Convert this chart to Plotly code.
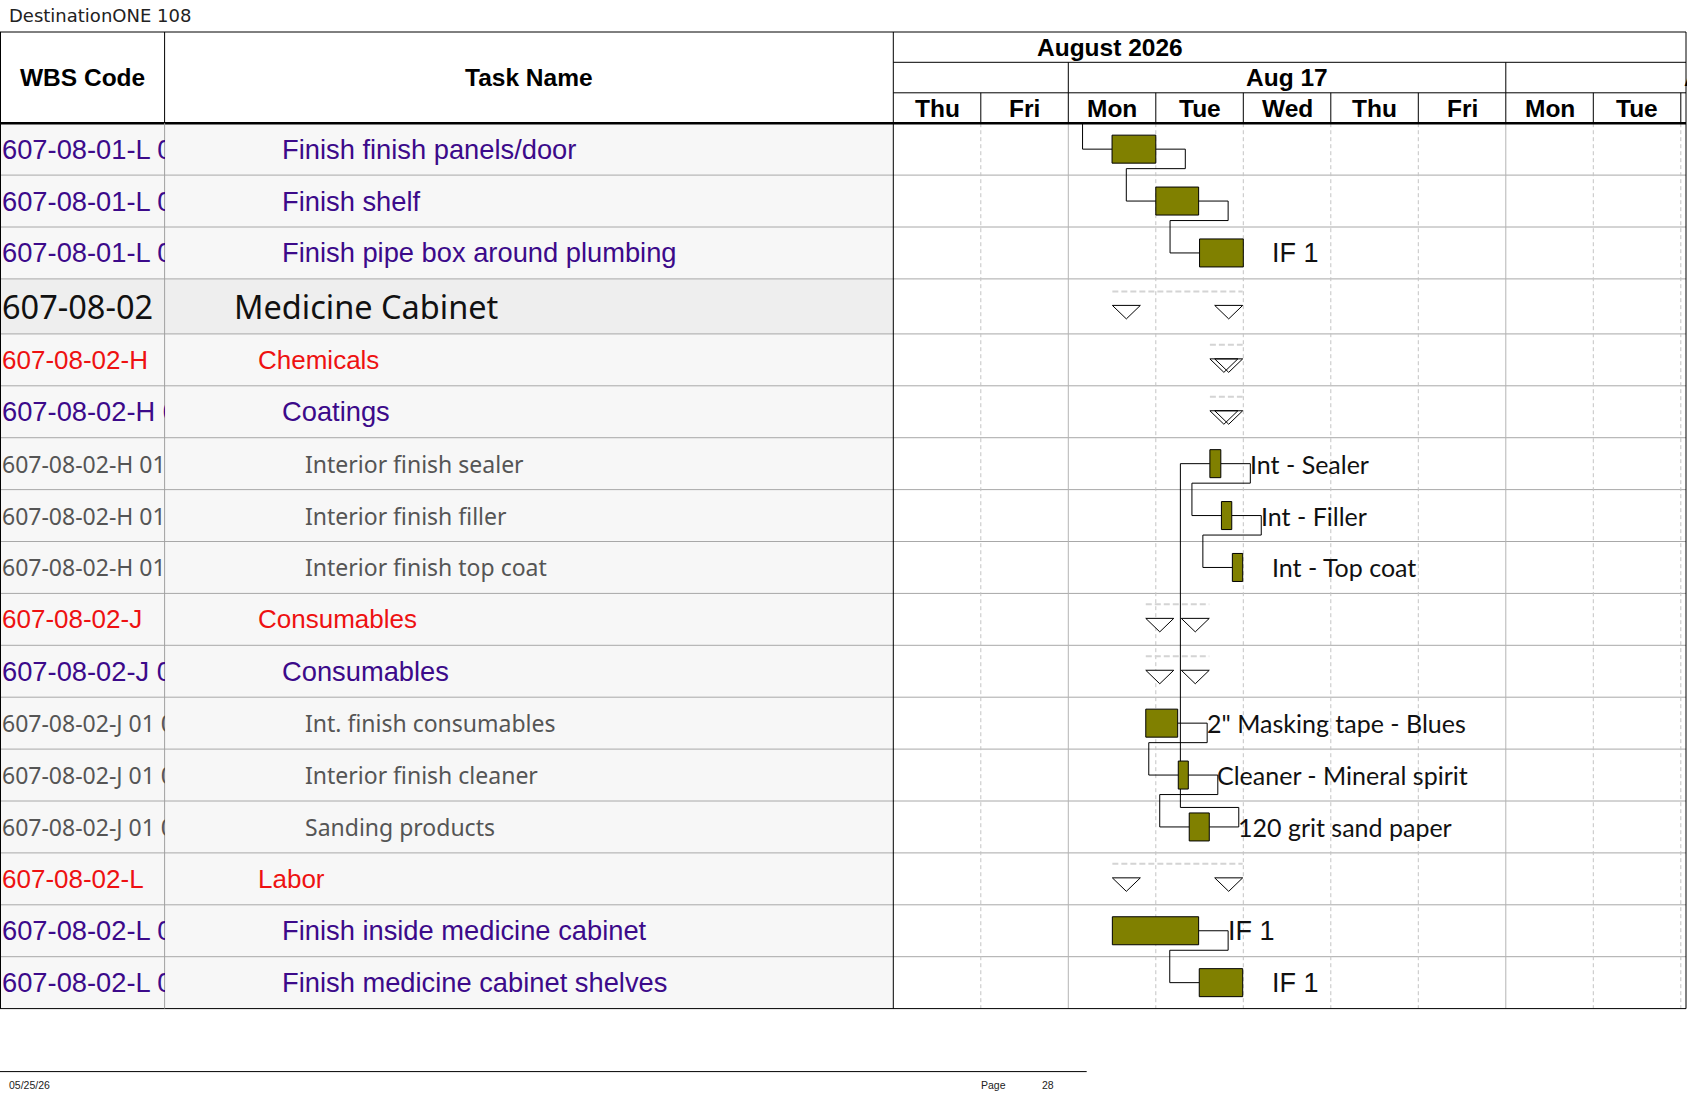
import numpy as np
import plotly.graph_objects as go

W, H = 1687, 1097

# ---- task table (one entry per row, top to bottom)
wbs_codes = ["607-08-01-L 01", "607-08-01-L 02", "607-08-01-L 03", "607-08-02",
             "607-08-02-H", "607-08-02-H 01", "607-08-02-H 01 01", "607-08-02-H 01 02",
             "607-08-02-H 01 03", "607-08-02-J", "607-08-02-J 01", "607-08-02-J 01 01",
             "607-08-02-J 01 02", "607-08-02-J 01 03", "607-08-02-L", "607-08-02-L 01",
             "607-08-02-L 02"]
task_names = ["Finish finish panels/door", "Finish shelf", "Finish pipe box around plumbing",
              "Medicine Cabinet", "Chemicals", "Coatings", "Interior finish sealer",
              "Interior finish filler", "Interior finish top coat", "Consumables", "Consumables",
              "Int. finish consumables", "Interior finish cleaner", "Sanding products", "Labor",
              "Finish inside medicine cabinet", "Finish medicine cabinet shelves"]
outline_level = [3, 3, 3, 1, 2, 3, 4, 4, 4, 2, 3, 4, 4, 4, 2, 3, 3]

# ---- gantt bars
bar_row = [0, 1, 2, 6, 7, 8, 11, 12, 13, 15, 16]
bar_start = ["2026-08-17 12:00", "2026-08-18 00:00", "2026-08-18 12:00", "2026-08-18 14:50",
             "2026-08-18 18:00", "2026-08-18 21:00", "2026-08-17 21:15", "2026-08-18 06:10",
             "2026-08-18 09:10", "2026-08-17 12:05", "2026-08-18 11:55"]
bar_finish = ["2026-08-18 00:00", "2026-08-18 11:45", "2026-08-19 00:00", "2026-08-18 17:50",
              "2026-08-18 20:50", "2026-08-18 23:50", "2026-08-18 06:00", "2026-08-18 08:55",
              "2026-08-18 14:40", "2026-08-18 11:45", "2026-08-18 23:50"]
bar_label = ["", "", "IF 1", "Int - Sealer", "Int - Filler", "Int - Top coat",
             '2" Masking tape - Blues', "Cleaner - Mineral spirit", "120 grit sand paper",
             "IF 1", "IF 1"]

# predecessor row -> successor row (None = from previous page)
links = [(None, 0), (0, 1), (1, 2), (6, 7), (7, 8), (11, 12), (12, 13), (13, 6), (15, 16)]

summary_row = [3, 4, 5, 9, 10, 14]
summary_children = [[6, 7, 8, 11, 12, 13, 15, 16], [6, 7, 8], [6, 7, 8],
                    [11, 12, 13], [11, 12, 13], [15, 16]]

# ---- timescale
timescale_start = "2026-08-13"
day_names = ["Thu", "Fri", "Mon", "Tue", "Wed", "Thu", "Fri", "Mon", "Tue"]
week_labels = ["Aug 17", "Aug 24"]
week_starts = ["2026-08-17", "2026-08-24"]
month_label = "August 2026"

page_title = "DestinationONE 108"
print_date = "05/25/26"
page_no = "28"

# ---- page geometry (pixels)
X_WBS, X_CHART, X_RIGHT = 164.6, 893.3, 1686.0
Y_TOP, Y_MONTH, Y_WEEK, Y_HEAD, Y_BOT = 32.0, 62.3, 92.8, 123.2, 1008.6
DAY_PX = 87.5

row_h = np.array([1.06 if lv == 1 else 1.0 for lv in outline_level])
row_top = np.concatenate([[0.0], np.cumsum(row_h)])[:-1]
row_mid = row_top + row_h / 2
total = row_h.sum()
unit = (Y_BOT - Y_HEAD) / total
xmax = (W - X_CHART) / DAY_PX

base = np.datetime64(timescale_start)


def wd(ts):
    t = np.datetime64(ts.replace(" ", "T"), "m")
    day = t.astype("datetime64[D]")
    mins = (t - day.astype("datetime64[m]")).astype(int)
    return float(np.busday_count(base, day)) + mins / 1440.0


def px(x):
    return x / W


def py(y):
    return 1 - y / H


start = np.array([wd(s) for s in bar_start])
finish = np.array([wd(s) for s in bar_finish])

ARIAL = "Liberation Sans, Arial"
PURPLE = "#3c0a8a"
level_font = {
    1: dict(family="Noto Sans", size=32.5, color="#111111"),
    2: dict(family=ARIAL, size=26, color="#ee1111"),
    3: dict(family=ARIAL, size=27.3, color=PURPLE),
    4: dict(family="Noto Sans", size=23, color="#555555"),
}
indent = {1: 232, 2: 256, 3: 280, 4: 303}

shapes = []
annotations = []

# table body backgrounds
for i, lv in enumerate(outline_level):
    shapes.append(dict(type="rect", xref="paper", yref="y", x0=0, x1=px(X_CHART),
                       y0=row_top[i], y1=row_top[i] + row_h[i], layer="below",
                       fillcolor="#eeeeee" if lv == 1 else "#f7f7f7", line_width=0))

# row separators
for i in range(1, len(outline_level)):
    shapes.append(dict(type="line", xref="paper", yref="y", x0=0, x1=px(X_RIGHT),
                       y0=row_top[i], y1=row_top[i], layer="below",
                       line=dict(color="#a8a8a8", width=1)))

# day columns in the chart body
day_lines = [d for d in range(1, 10) if d < xmax]
for d in day_lines:
    monday = np.is_busday(np.busday_offset(base, d), weekmask="Mon")
    shapes.append(dict(type="line", xref="x", yref="y", x0=d, x1=d, y0=0, y1=total,
                       layer="below",
                       line=dict(color="#b4b4b4" if monday else "#c4c4c4", width=1,
                                 dash="solid" if monday else "4px,3px")))
    shapes.append(dict(type="line", xref="x", yref="paper", x0=d, x1=d,
                       y0=py(Y_WEEK), y1=py(Y_HEAD), line=dict(color="black", width=1)))
    if monday:
        shapes.append(dict(type="line", xref="x", yref="paper", x0=d, x1=d,
                           y0=py(Y_MONTH), y1=py(Y_WEEK), line=dict(color="black", width=1)))

# frame and header lines
black = dict(color="black", width=1)
shapes += [
    dict(type="line", xref="paper", yref="paper", x0=0, x1=px(X_RIGHT), y0=py(Y_TOP), y1=py(Y_TOP), line=black),
    dict(type="line", xref="paper", yref="paper", x0=px(X_CHART), x1=px(X_RIGHT), y0=py(Y_MONTH), y1=py(Y_MONTH), line=black),
    dict(type="line", xref="paper", yref="paper", x0=px(X_CHART), x1=px(X_RIGHT), y0=py(Y_WEEK), y1=py(Y_WEEK), line=black),
    dict(type="line", xref="paper", yref="paper", x0=0, x1=px(X_RIGHT), y0=py(Y_HEAD), y1=py(Y_HEAD), line=dict(color="black", width=2.5)),
    dict(type="line", xref="paper", yref="paper", x0=0, x1=px(X_RIGHT), y0=py(Y_BOT), y1=py(Y_BOT), line=black),
    dict(type="line", xref="paper", yref="paper", x0=px(0.5), x1=px(0.5), y0=py(Y_TOP), y1=py(Y_BOT), line=black),
    dict(type="line", xref="paper", yref="paper", x0=px(X_RIGHT), x1=px(X_RIGHT), y0=py(Y_TOP), y1=py(Y_BOT), line=black),
    dict(type="line", xref="paper", yref="paper", x0=px(X_CHART), x1=px(X_CHART), y0=py(Y_TOP), y1=py(Y_BOT), line=black),
    dict(type="line", xref="paper", yref="paper", x0=px(X_WBS), x1=px(X_WBS), y0=py(Y_TOP), y1=py(Y_HEAD), line=black),
    dict(type="line", xref="paper", yref="paper", x0=px(X_WBS), x1=px(X_WBS), y0=py(Y_HEAD), y1=py(Y_BOT), line=dict(color="#a0a0a0", width=1)),
    dict(type="line", xref="paper", yref="paper", x0=0, x1=px(1086.7), y0=py(1071.6), y1=py(1071.6), line=black),
]

# dependency links
dx = 29.5 / DAY_PX
dy = 19.5 / unit
for p, s in links:
    r_s = bar_row.index(s)
    xs, ys = start[r_s], row_mid[s]
    if p is None:
        pts = [(xs - dx, 0), (xs - dx, ys), (xs, ys)]
    else:
        r_p = bar_row.index(p)
        xp, yp = finish[r_p], row_mid[p]
        yk = yp + dy if s > p else yp - dy
        pts = [(xp, yp), (xp + dx, yp), (xp + dx, yk), (xs - dx, yk), (xs - dx, ys), (xs, ys)]
    path = "M " + " L ".join(f"{x:.4f},{y:.4f}" for x, y in pts)
    shapes.append(dict(type="path", xref="x", yref="y", path=path, layer="below",
                       line=dict(color="black", width=1)))

fig = go.Figure()

# summary markers
tri_w = 28 / DAY_PX
tri_h = 13.5 / unit
tx, ty, lx, ly = [], [], [], []
for r, kids in zip(summary_row, summary_children):
    idx = [bar_row.index(k) for k in kids]
    s, e = start[idx].min(), finish[idx].max()
    top = row_mid[r] - 1 / unit
    for a in (s, e - tri_w):
        tx += [a, a + tri_w, a + tri_w / 2, a, None]
        ty += [top, top, top + tri_h, top, None]
    lx += [s, e, None]
    ly += [row_mid[r] - 15 / unit] * 2 + [None]

fig.add_trace(go.Scatter(x=lx, y=ly, mode="lines", hoverinfo="skip",
                         line=dict(color="#d4d4d4", width=2, dash="6px,3px")))
fig.add_trace(go.Scatter(x=tx, y=ty, mode="lines", fill="toself", fillcolor="white",
                         hoverinfo="skip", line=dict(color="black", width=1)))

fig.add_trace(go.Bar(y=row_mid[bar_row], x=finish - start, base=start, orientation="h",
                     width=28 / unit, hoverinfo="skip",
                     marker=dict(color="#808000", line=dict(color="black", width=1))))

# bar labels
for i, lab in enumerate(bar_label):
    if not lab:
        continue
    f = dict(family=ARIAL, size=27, color="#111111") if lab.startswith("IF") else \
        dict(family="Lato", size=25, color="#111111")
    annotations.append(dict(x=finish[i], y=row_mid[bar_row[i]], xref="x", yref="y",
                            xanchor="left", yanchor="middle", xshift=27, text=lab,
                            showarrow=False, font=f))

# table text
for i, (code, name, lv) in enumerate(zip(wbs_codes, task_names, outline_level)):
    f = level_font[lv]
    annotations.append(dict(x=px(0), y=row_mid[i], xref="paper", yref="y", xanchor="left",
                            yanchor="middle", width=X_WBS - 1.5, align="left", text=code,
                            showarrow=False, font=f))
    annotations.append(dict(x=px(indent[lv]), y=row_mid[i], xref="paper", yref="y",
                            xanchor="left", yanchor="middle", text=name,
                            showarrow=False, font=f))

# headers
hfont = dict(family=ARIAL, size=24.5, color="black")
heads = [
    dict(x=px(X_WBS / 2), y=py((Y_TOP + Y_HEAD) / 2), text="<b>WBS Code</b>"),
    dict(x=px((X_WBS + X_CHART) / 2), y=py((Y_TOP + Y_HEAD) / 2), text="<b>Task Name</b>"),
    dict(x=px(1110), y=py((Y_TOP + Y_MONTH) / 2), text=f"<b>{month_label}</b>"),
]
for a in heads:
    a.update(xref="paper", yref="paper", xanchor="center", yanchor="middle",
             showarrow=False, font=hfont)
annotations += heads
for lab, ws in zip(week_labels, week_starts):
    annotations.append(dict(x=wd(ws), xshift=2.5 * DAY_PX, y=py((Y_MONTH + Y_WEEK) / 2),
                            xref="x", yref="paper", xanchor="center", yanchor="middle",
                            text=f"<b>{lab}</b>", showarrow=False, font=hfont))
for d, name in enumerate(day_names):
    annotations.append(dict(x=d + 0.5, y=py((Y_WEEK + Y_HEAD) / 2), xref="x", yref="paper",
                            xanchor="center", yanchor="middle",
                            text=f"<b>{name}</b>", showarrow=False, font=hfont))

# page title and footer
small = dict(family=ARIAL, size=10.5, color="#222222")
annotations += [
    dict(x=px(7), y=py(15.5), text=page_title,
         font=dict(family="DejaVu Sans", size=18, color="#222222")),
    dict(x=px(7), y=py(1084.5), text=print_date, font=small),
    dict(x=px(979), y=py(1084.5), text="Page", font=small),
    dict(x=px(1040), y=py(1084.5), text=page_no, font=small),
]
for a in annotations[-4:]:
    a.update(xref="paper", yref="paper", xanchor="left", yanchor="middle", showarrow=False)

fig.update_layout(
    width=W, height=H, margin=dict(l=0, r=0, t=0, b=0),
    paper_bgcolor="white", plot_bgcolor="rgba(0,0,0,0)",
    showlegend=False,
    xaxis=dict(domain=[px(X_CHART), 1], range=[0, xmax], visible=False, fixedrange=True),
    yaxis=dict(domain=[py(Y_BOT), py(Y_HEAD)], range=[total, 0], visible=False, fixedrange=True),
    shapes=shapes, annotations=annotations,
)

fig.write_html("out.html", config={"displayModeBar": False},
               post_script="document.body.style.margin='0';")
